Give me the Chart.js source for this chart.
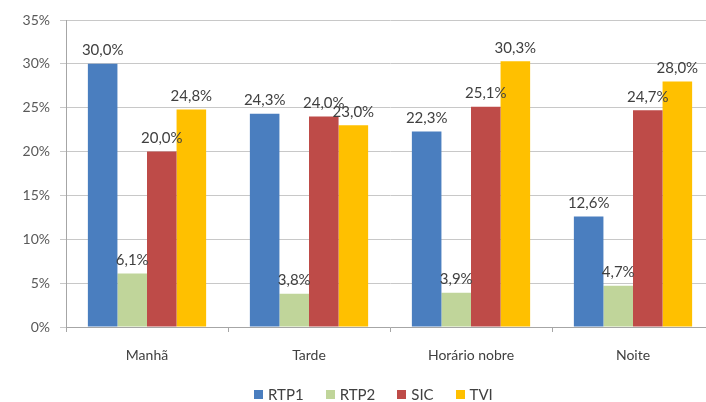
<!DOCTYPE html>
<html>
<head>
<meta charset="utf-8">
<script src="https://cdn.jsdelivr.net/npm/chart.js@4"></script>
<style>
  html, body { margin: 0; padding: 0; background: #fff; overflow: hidden; }
  #wrap { position: relative; width: 716px; height: 402px; }
  #legenda { position: absolute; left: 254px; top: 385px; display: flex; gap: 22px;
    font: 15px Lato, "Open Sans", sans-serif; color: #404040; }
  #legenda span { display: flex; align-items: center; }
  #legenda i { display: inline-block; width: 9px; height: 9px; margin-right: 5px; }
</style>
</head>
<body>
<div id="wrap"><canvas id="c" width="716" height="402"></canvas><div id="legenda"></div></div>
<script>
// Audiência por período do dia
var periodos = ["Manhã", "Tarde", "Horário nobre", "Noite"];
var rtp1 = [30.0, 24.3, 22.3, 12.6];
var rtp2 = [6.1, 3.8, 3.9, 4.7];
var sic = [20.0, 24.0, 25.1, 24.7];
var tvi = [24.8, 23.0, 30.3, 28.0];
var canais = ["RTP1", "RTP2", "SIC", "TVI"];
var cores = ["#4a7ebf", "#c0d59a", "#be4b48", "#ffc000"];

var FONTE = "Lato, 'Open Sans', sans-serif";

function fmt(v) { return v.toFixed(1).replace(".", ",") + "%"; }

// rótulos de dados por cima das barras
var rotulos = {
  id: "rotulos",
  afterDatasetsDraw: function (chart) {
    var ctx = chart.ctx;
    ctx.save();
    ctx.font = "15px " + FONTE;
    ctx.fillStyle = "#404040";
    ctx.textAlign = "center";
    ctx.textBaseline = "bottom";
    chart.data.datasets.forEach(function (ds, i) {
      chart.getDatasetMeta(i).data.forEach(function (bar, j) {
        ctx.fillText(fmt(ds.data[j]), bar.x, bar.y - 6);
      });
    });
    ctx.restore();
  }
};

// legenda em HTML (espaçamento como no original)
document.getElementById("legenda").innerHTML = canais.map(function (n, i) {
  return '<span><i style="background:' + cores[i] + '"></i>' + n + "</span>";
}).join("");

new Chart(document.getElementById("c"), {
  type: "bar",
  data: {
    labels: periodos,
    datasets: [rtp1, rtp2, sic, tvi].map(function (d, i) {
      return { label: canais[i], data: d, backgroundColor: cores[i], categoryPercentage: 0.73, barPercentage: 1 };
    })
  },
  options: {
    responsive: false,
    animation: false,
    layout: { padding: { top: 20, right: 2, left: 0, bottom: 0 } },
    plugins: { legend: { display: false }, tooltip: { enabled: false } },
    scales: {
      x: {
        grid: { display: true, drawOnChartArea: false, drawTicks: true, tickLength: 5, color: "#a6a6a6", offset: true },
        border: { color: "#a6a6a6" },
        ticks: { color: "#404040", font: { family: FONTE, size: 14 }, padding: 15 },
        afterFit: function (s) { s.height = 75; }
      },
      y: {
        min: 0, max: 35,
        ticks: { stepSize: 5, color: "#595959", padding: 10, font: { family: FONTE, size: 14 }, callback: function (v) { return v + "%"; } },
        grid: { color: "#c8c8c8", tickLength: 6 },
        border: { color: "#a6a6a6" },
        afterFit: function (s) { s.width = 66; }
      }
    }
  },
  plugins: [rotulos]
});
</script>
</body>
</html>
